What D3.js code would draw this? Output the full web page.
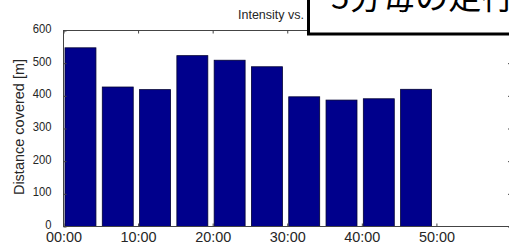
<!DOCTYPE html>
<html>
<head>
<meta charset="utf-8">
<script src="https://cdn.jsdelivr.net/npm/d3@7"></script>
<style>
  body { margin: 0; background: #fff; }
  svg { display: block; }
</style>
</head>
<body>
<script>
// 5-minute intervals, start minute of each bar
var startMin = [0, 5, 10, 15, 20, 25, 30, 35, 40, 45]
var distance = [547, 427, 419, 523, 509, 489, 397, 387, 391, 420]
var xTicks = [0, 10, 20, 30, 40, 50]
var xTickLabels = ["00:00", "10:00", "20:00", "30:00", "40:00", "50:00"]
var yTicks = [0, 100, 200, 300, 400, 500, 600]

var width = 509
var height = 246
var margin = {top: 30.5, right: -2, bottom: 19.5, left: 63.5}

var svg = d3.select("body").append("svg")
    .attr("width", width)
    .attr("height", height)

var x = d3.scaleLinear().domain([0, 60]).range([margin.left, width - margin.right])
var y = d3.scaleLinear().domain([0, 600]).range([height - margin.bottom, margin.top])

var textColor = "#262626"
var font = "'Liberation Sans', Arial, sans-serif"

// bars
svg.append("g").selectAll("rect")
    .data(startMin)
  .enter().append("rect")
    .attr("x", function(d){ return x(d + 0.2) })
    .attr("width", function(d){ return x(d + 4.35) - x(d + 0.2) })
    .attr("y", function(d, i){ return y(distance[i]) })
    .attr("height", function(d, i){ return y(0) - y(distance[i]) })
    .attr("fill", "#00008c")
    .attr("stroke", "#000033")
    .attr("stroke-width", 0.8)

// plot box
svg.append("rect")
    .attr("x", x(0))
    .attr("y", y(600))
    .attr("width", x(60) - x(0))
    .attr("height", y(0) - y(600))
    .attr("fill", "none")
    .attr("stroke", "#444")
    .attr("stroke-width", 1)

function styleAxis(g){
  g.select(".domain").remove()
  g.selectAll(".tick line").attr("stroke", "#444")
  g.selectAll("text").attr("fill", textColor).style("font-family", font)
}

// x axes (bottom with labels, top ticks only)
svg.append("g")
    .attr("transform", "translate(0," + y(0) + ")")
    .call(d3.axisBottom(x).tickValues(xTicks).tickSizeInner(-3).tickSizeOuter(0).tickPadding(6)
      .tickFormat(function(d, i){ return xTickLabels[i] }))
    .call(styleAxis)
    .selectAll("text").style("font-size", "14px").attr("transform", "scale(1.03,1)")

svg.append("g")
    .attr("transform", "translate(0," + y(600) + ")")
    .call(d3.axisTop(x).tickValues(xTicks).tickSizeInner(-3).tickSizeOuter(0).tickFormat(""))
    .call(styleAxis)

// y axes
svg.append("g")
    .attr("transform", "translate(" + x(0) + ",0)")
    .call(d3.axisLeft(y).tickValues(yTicks).tickSizeInner(-3).tickSizeOuter(0).tickPadding(12))
    .call(styleAxis)
    .selectAll("text").style("font-size", "12.5px").attr("transform", "scale(0.9,1)")
    .attr("x", -12 / 0.9)
    .attr("dy", "0.15em")

svg.append("g")
    .attr("transform", "translate(" + x(60) + ",0)")
    .call(d3.axisRight(y).tickValues(yTicks).tickSizeInner(-3).tickSizeOuter(0).tickFormat(""))
    .call(styleAxis)

// y label
svg.append("text")
    .attr("transform", "translate(24,127) rotate(-90)")
    .attr("text-anchor", "middle")
    .attr("fill", textColor)
    .style("font-family", font)
    .style("font-size", "14.5px")
    .text("Distance covered [m]")

// title
svg.append("text")
    .attr("x", 238)
    .attr("y", 19)
    .attr("fill", textColor)
    .style("font-family", font)
    .style("font-size", "12.5px")
    .text("Intensity vs. time")

// overlay caption box
svg.append("rect")
    .attr("x", 308.5)
    .attr("y", -10)
    .attr("width", 230)
    .attr("height", 44)
    .attr("fill", "#fff")
    .attr("stroke", "#000")
    .attr("stroke-width", 3)

svg.append("text")
    .attr("x", 331)
    .attr("y", 9)
    .attr("fill", "#000")
    .style("font-family", "'Noto Sans CJK JP', sans-serif")
    .style("font-size", "33px")
    .text("5分毎の走行距離")
</script>
</body>
</html>
